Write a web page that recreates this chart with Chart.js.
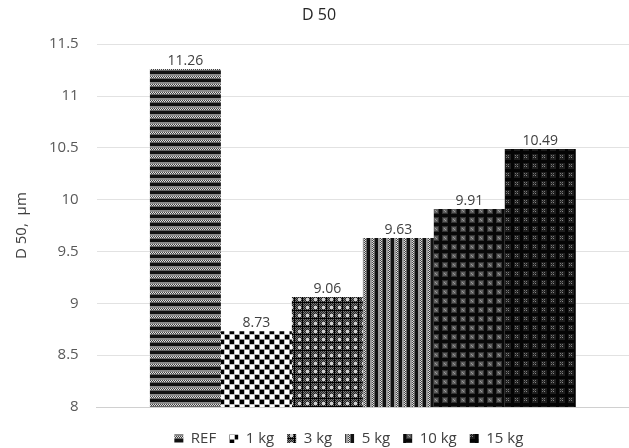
<!DOCTYPE html>
<html>
<head>
<meta charset="utf-8">
<script src="https://cdn.jsdelivr.net/npm/chart.js@4.4.1/dist/chart.umd.min.js"></script>
<style>
    html, body { margin: 0; padding: 0; background: #fff; }
    #wrap { width: 629px; height: 448px; }
</style>
</head>
<body>
<div id="wrap"><canvas id="d50" width="629" height="448"></canvas></div>
<script>
    "use strict";

    // Data
    var seriesNames = ["REF", "1 kg", "3 kg", "5 kg", "10 kg", "15 kg"];
    var d50Values = [11.26, 8.73, 9.06, 9.63, 9.91, 10.49];
    var yTicks = [8, 8.5, 9, 9.5, 10, 10.5, 11, 11.5];

    var FONT = "'Open Sans', 'Noto Sans', sans-serif";

    // Pattern fills (grey-scale, like the printed original)
    function makePattern(w, h, draw) {
        var c = document.createElement("canvas");
        c.width = w;
        c.height = h;
        var g = c.getContext("2d");
        draw(g, w, h);
        return c.getContext("2d").createPattern(c, "repeat");
    }

    function px(g, x, y, col) {
        g.fillStyle = col;
        g.fillRect(x, y, 1, 1);
    }

    var patterns = [
        // REF: horizontal bands
        makePattern(4, 8, function (g, w, h) {
            g.fillStyle = "#111"; g.fillRect(0, 0, w, h);
            g.fillStyle = "#8a8a8a"; g.fillRect(0, 2, w, 2);
            for (var x = 0; x < w; x++) {
                px(g, x, 4, x % 2 ? "#ddd" : "#444");
                px(g, x, 5, x % 2 ? "#444" : "#ddd");
            }
            g.fillStyle = "#666"; g.fillRect(0, 6, w, 1);
        }),
        // 1 kg: coarse checkerboard
        makePattern(10, 10, function (g, w, h) {
            g.fillStyle = "#888"; g.fillRect(0, 0, w, h);
            g.fillStyle = "#000"; g.fillRect(0, 0, 4, 4); g.fillRect(5, 5, 4, 4);
            g.fillStyle = "#fff"; g.fillRect(5, 0, 4, 4); g.fillRect(0, 5, 4, 4);
            g.fillStyle = "#bbb"; g.fillRect(4, 0, 1, 10); g.fillRect(0, 4, 10, 1);
        }),
        // 3 kg: dark checker with light dots
        makePattern(8, 8, function (g, w, h) {
            g.fillStyle = "#222"; g.fillRect(0, 0, w, h);
            for (var y = 0; y < h; y++) {
                for (var x = 0; x < w; x++) {
                    if ((x + y) % 2 === 0) px(g, x, y, "#777");
                }
            }
            g.fillStyle = "#cfcfcf"; g.fillRect(2, 2, 3, 3);
            g.fillStyle = "#000"; g.fillRect(0, 6, 8, 1); g.fillRect(6, 0, 1, 8);
        }),
        // 5 kg: vertical bands
        makePattern(8, 4, function (g, w, h) {
            g.fillStyle = "#111"; g.fillRect(0, 0, w, h);
            g.fillStyle = "#9a9a9a"; g.fillRect(2, 0, 2, h);
            for (var y = 0; y < h; y++) {
                px(g, 4, y, y % 2 ? "#ddd" : "#444");
                px(g, 5, y, y % 2 ? "#444" : "#ddd");
            }
            g.fillStyle = "#666"; g.fillRect(6, 0, 1, h);
        }),
        // 10 kg: dark grid with soft grey blobs
        makePattern(9, 9, function (g, w, h) {
            g.fillStyle = "#080808"; g.fillRect(0, 0, w, h);
            g.fillStyle = "#333"; g.fillRect(1, 1, 6, 6);
            g.fillStyle = "#5e5e5e"; g.fillRect(2, 2, 4, 4);
            px(g, 3, 3, "#999"); px(g, 4, 4, "#999");
        }),
        // 15 kg: black with sparse light dots
        makePattern(9, 9, function (g, w, h) {
            g.fillStyle = "#040404"; g.fillRect(0, 0, w, h);
            g.fillStyle = "#1e1e1e"; g.fillRect(1, 1, 6, 6);
            px(g, 2, 2, "#777"); px(g, 4, 2, "#777");
            px(g, 2, 4, "#777"); px(g, 4, 4, "#8a8a8a");
            px(g, 3, 3, "#4a4a4a");
        })
    ];

    // Value labels above each bar
    var valueLabels = {
        id: "valueLabels",
        afterDatasetsDraw: function (chart) {
            var ctx = chart.ctx;
            ctx.save();
            ctx.font = "14px " + FONT;
            ctx.fillStyle = "#404040";
            ctx.textAlign = "center";
            ctx.textBaseline = "bottom";
            chart.data.datasets.forEach(function (ds, i) {
                var bar = chart.getDatasetMeta(i).data[0];
                ctx.fillText(ds.data[0].toFixed(2), bar.x, bar.y - 1);
            });
            ctx.restore();
        }
    };

    // Legend sits a little left of the plot centre in the original
    var legendShift = {
        id: "legendShift",
        afterLayout: function (chart) {
            chart.legend.left -= 14;
            chart.legend.right -= 14;
        }
    };

    var datasets = seriesNames.map(function (name, i) {
        return {
            label: name,
            data: [d50Values[i]],
            backgroundColor: patterns[i],
            borderWidth: 0
        };
    });

    var ctx = document.getElementById("d50").getContext("2d");
    var chart = new Chart(ctx, {
        type: "bar",
        data: {
            labels: [""],
            datasets: datasets
        },
        options: {
            responsive: false,
            animation: false,
            devicePixelRatio: 1,
            categoryPercentage: 0.8,
            barPercentage: 1,
            layout: { padding: { left: 9, right: 0, top: 2, bottom: -8 } },
            plugins: {
                title: {
                    display: true,
                    text: "D 50",
                    color: "#262626",
                    font: { family: FONT, size: 16, weight: "normal" },
                    padding: { top: 4, bottom: 19 }
                },
                legend: {
                    position: "bottom",
                    fullSize: false,
                    labels: {
                        color: "#404040",
                        font: { family: FONT, size: 15 },
                        boxWidth: 9,
                        boxHeight: 9,
                        padding: 13
                    }
                },
                tooltip: { enabled: false }
            },
            scales: {
                x: {
                    grid: { display: false },
                    border: { color: "#d0d0d0" },
                    ticks: { display: false },
                    afterFit: function (axis) { axis.height += 3; }
                },
                y: {
                    min: 8,
                    max: 11.5,
                    afterBuildTicks: function (axis) {
                        axis.ticks = yTicks.map(function (v) { return { value: v }; });
                    },
                    grid: { color: "#e2e2e2", drawTicks: false },
                    border: { display: false },
                    ticks: {
                        color: "#595959",
                        padding: 18,
                        font: { family: FONT, size: 15 },
                        callback: function (v) { return String(v); }
                    },
                    title: {
                        display: true,
                        text: "D 50,  µm",
                        color: "#404040",
                        font: { family: FONT, size: 15 },
                        padding: { bottom: 0 }
                    }
                }
            }
        },
        plugins: [valueLabels, legendShift]
    });
</script>
</body>
</html>
